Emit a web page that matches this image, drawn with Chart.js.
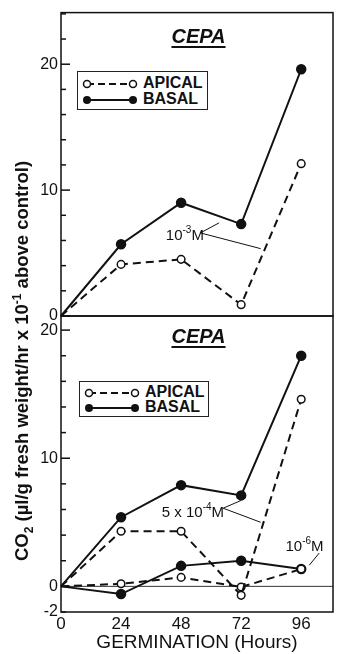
<!DOCTYPE html>
<html>
<head>
<meta charset="utf-8">
<script src="https://cdn.jsdelivr.net/npm/chart.js@4.4.1/dist/chart.umd.min.js"></script>
<style>
body { margin: 0; background: #fff; width: 339px; height: 654px; position: relative; overflow: hidden; font-family: "Liberation Sans", Arial, sans-serif; color: #111; }
canvas { position: absolute; left: 0; }
#top { top: 0; }
#bottom { top: 300px; }
.ttl { position: absolute; left: 61px; width: 275px; text-align: center; font: italic bold 20px "Liberation Sans", Arial, sans-serif; text-decoration: underline; text-underline-offset: 3px; }
.ylab { position: absolute; left: -278px; top: 349px; width: 600px; height: 24px; line-height: 24px; text-align: center; transform: rotate(-90deg); font: bold 18.5px "Liberation Sans", Arial, sans-serif; white-space: nowrap; }
.leg { position: absolute; border: 1.5px solid #222; background: #fff; font: bold 16px "Liberation Sans", Arial, sans-serif; }
.leg div { position: absolute; left: 4px; height: 16px; line-height: 16px; white-space: nowrap; }
.leg svg { vertical-align: middle; margin-right: 5px; }
</style>
</head>
<body>
<canvas id="top" width="339" height="330"></canvas>
<canvas id="bottom" width="339" height="354"></canvas>

<div class="ttl" style="top:25px">CEPA</div>
<div class="ttl" style="top:325px">CEPA</div>

<div class="ylab">CO<sub style="font-size:12px">2</sub> (µl/g fresh weight/hr x 10<sup style="font-size:12px">-1</sup> above control)</div>

<div class="leg" style="left:77px;top:71px;width:129px;height:37px">
  <div style="top:3px"><svg width="56" height="12"><line x1="5" y1="6" x2="51" y2="6" stroke="#111" stroke-width="2" stroke-dasharray="7,4"/><circle cx="5" cy="6" r="3.5" fill="#fff" stroke="#111" stroke-width="1.5"/><circle cx="51" cy="6" r="3.5" fill="#fff" stroke="#111" stroke-width="1.5"/></svg>APICAL</div>
  <div style="top:19px"><svg width="56" height="12"><line x1="5" y1="6" x2="51" y2="6" stroke="#111" stroke-width="2"/><circle cx="5" cy="6" r="4" fill="#111"/><circle cx="51" cy="6" r="4" fill="#111"/></svg>BASAL</div>
</div>
<div class="leg" style="left:79px;top:381px;width:128px;height:34px">
  <div style="top:2px"><svg width="56" height="12"><line x1="5" y1="6" x2="51" y2="6" stroke="#111" stroke-width="2" stroke-dasharray="7,4"/><circle cx="5" cy="6" r="3.5" fill="#fff" stroke="#111" stroke-width="1.5"/><circle cx="51" cy="6" r="3.5" fill="#fff" stroke="#111" stroke-width="1.5"/></svg>APICAL</div>
  <div style="top:17px"><svg width="56" height="12"><line x1="5" y1="6" x2="51" y2="6" stroke="#111" stroke-width="2"/><circle cx="5" cy="6" r="4" fill="#111"/><circle cx="51" cy="6" r="4" fill="#111"/></svg>BASAL</div>
</div>

<script>
// germination time (hours)
const hours = [0, 24, 48, 72, 96];
const xTicks = [0, 24, 48, 72, 96];

// upper panel: 10^-3 M
const apical3 = [0, 4.1, 4.5, 0.9, 12.1];
const basal3 = [0, 5.7, 9.0, 7.3, 19.6];

// lower panel: 5 x 10^-4 M
const apical54 = [0, 4.3, 4.3, -0.7, 14.6];
const basal54 = [0, 5.4, 7.9, 7.1, 18.0];

// lower panel: 10^-6 M
const apical6 = [0, 0.2, 0.7, -0.05, 1.35];
const basal6 = [0, -0.6, 1.6, 2.0, 1.35];

const topYTicks = [0, 10, 20];
const bottomYTicks = [-2, 0, 10, 20];

const FONT = '"Liberation Sans", Arial, sans-serif';

function series(values, open) {
  return {
    data: hours.map((h, i) => ({ x: h, y: values[i] })),
    borderColor: '#111',
    borderWidth: 2,
    borderDash: open ? [8, 5] : [],
    pointRadius: c => c.dataIndex === 0 ? 0 : (open ? 3.8 : 4.5),
    pointBackgroundColor: open ? '#fff' : '#111',
    pointBorderColor: '#111',
    pointBorderWidth: 1.5,
    tension: 0,
    clip: false
  };
}

// box, inward ticks, zero line and labelled leader lines
const frame = {
  id: 'frame',
  beforeDatasetsDraw(chart, args, opts) {
    const { ctx, chartArea: a, scales: { y } } = chart;
    if (opts.zeroLine) {
      ctx.save();
      ctx.strokeStyle = '#333';
      ctx.lineWidth = 1;
      const py = y.getPixelForValue(0);
      ctx.beginPath(); ctx.moveTo(a.left, py); ctx.lineTo(a.right, py); ctx.stroke();
      ctx.restore();
    }
  },
  afterDraw(chart, args, opts) {
    const { ctx, chartArea: a, scales: { x, y } } = chart;
    ctx.save();
    ctx.strokeStyle = '#111';
    ctx.lineWidth = 1.5;
    ctx.strokeRect(a.left, a.top, a.right - a.left, a.bottom - a.top);
    for (let v = opts.tickFrom; v <= y.max; v += 2) {
      const py = y.getPixelForValue(v);
      const len = v % 10 === 0 ? 9 : 5;
      ctx.beginPath(); ctx.moveTo(a.left, py); ctx.lineTo(a.left + len, py); ctx.stroke();
    }
    ctx.lineWidth = 1;
    ctx.fillStyle = '#111';
    ctx.textBaseline = 'alphabetic';
    (opts.notes || []).forEach(n => {
      n.leaders.forEach(l => {
        ctx.beginPath();
        ctx.moveTo(x.getPixelForValue(l[0]), y.getPixelForValue(l[1]));
        ctx.lineTo(x.getPixelForValue(l[2]), y.getPixelForValue(l[3]));
        ctx.stroke();
      });
      let px = x.getPixelForValue(n.at[0]);
      const py = y.getPixelForValue(n.at[1]);
      ctx.font = '15px ' + FONT;
      ctx.fillText(n.pre, px, py); px += ctx.measureText(n.pre).width;
      ctx.font = '10px ' + FONT;
      ctx.fillText(n.sup, px, py - 7); px += ctx.measureText(n.sup).width;
      ctx.font = '15px ' + FONT;
      ctx.fillText('M', px, py);
    });
    ctx.restore();
  }
};

function build(id, sets, yMin, yMax, yTicks, showX, pad, frameOpts) {
  return new Chart(document.getElementById(id), {
    type: 'line',
    data: { datasets: sets },
    options: {
      responsive: false,
      animation: false,
      layout: { padding: pad },
      plugins: { legend: { display: false }, tooltip: { enabled: false }, frame: frameOpts },
      scales: {
        x: {
          type: 'linear', min: 0, max: 108.7,
          display: showX,
          grid: { display: false, drawTicks: false, tickLength: 0 },
          border: { display: false },
          afterBuildTicks: s => { s.ticks = xTicks.map(v => ({ value: v })); },
          afterFit: s => { if (showX) s.height = 42; },
          ticks: { color: '#111', font: { family: FONT, size: 17 }, padding: 2, maxRotation: 0 },
          title: { display: true, text: 'GERMINATION (Hours)', color: '#111', font: { family: FONT, size: 19 }, padding: { top: 0, bottom: 0 } }
        },
        y: {
          min: yMin, max: yMax,
          grid: { display: false, drawTicks: false, tickLength: 0 },
          border: { display: false },
          afterBuildTicks: s => { s.ticks = yTicks.map(v => ({ value: v })); },
          afterFit: s => { s.width = 40; },
          ticks: { color: '#111', font: { family: FONT, size: 16 }, padding: 3 }
        }
      }
    },
    plugins: [frame]
  });
}

build('top', [series(apical3, true), series(basal3, false)], 0, 24.1, topYTicks, false,
  { left: 21, right: 3, top: 10, bottom: 14 },
  { tickFrom: 0, zeroLine: false,
    notes: [{ pre: '10', sup: '-3', at: [41.9, 6.0], leaders: [[55.7, 6.6, 63.2, 7.4], [55.7, 6.6, 79.8, 5.35]] }] });

build('bottom', [series(apical54, true), series(basal54, false), series(apical6, true), series(basal6, false)], -2, 21.1, bottomYTicks, true,
  { left: 21, right: 3, top: 16, bottom: 0 },
  { tickFrom: -2, zeroLine: true,
    notes: [
      { pre: '5 x 10', sup: '-4', at: [40.3, 5.4], leaders: [[64.8, 6.1, 71.9, 6.7], [64.8, 6.1, 79.8, 5.0]] },
      { pre: '10', sup: '-6', at: [89.7, 2.74], leaders: [[103.2, 2.6, 99.2, 1.65]] }
    ] });
</script>
</body>
</html>
